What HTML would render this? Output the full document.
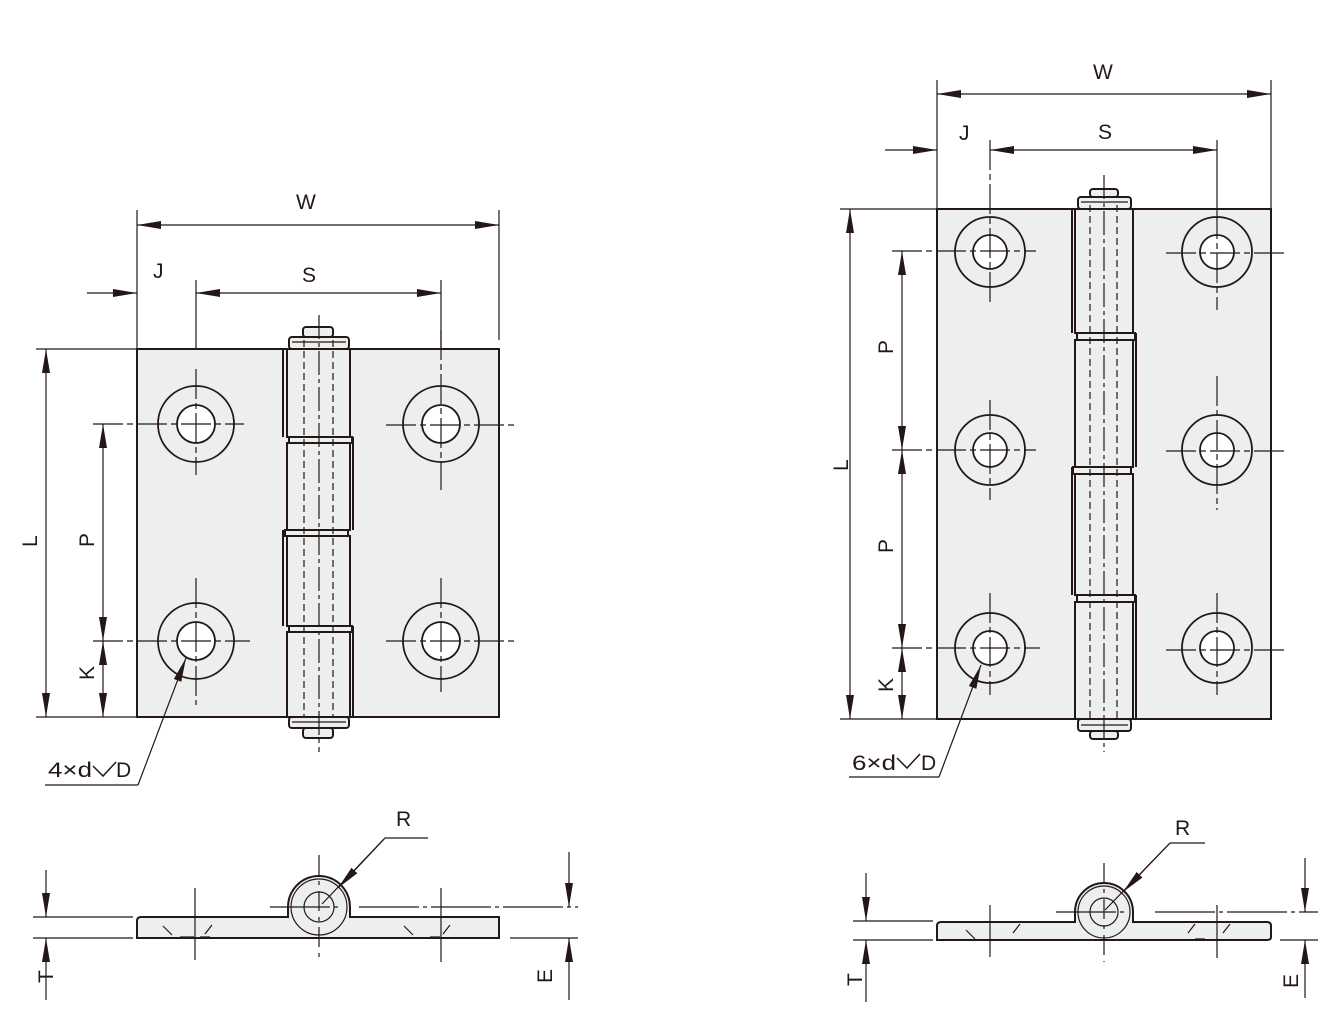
<!DOCTYPE html>
<html><head><meta charset="utf-8"><style>
html,body{margin:0;padding:0;background:#fff}
svg{display:block}
text{font-family:"Liberation Sans",sans-serif;font-size:21px;fill:#231815}
</style></head><body>
<svg width="1329" height="1013" viewBox="0 0 1329 1013" xmlns="http://www.w3.org/2000/svg">
<defs>
<marker id="a" viewBox="0 0 24 8" refX="24" refY="4" markerWidth="24" markerHeight="8" markerUnits="userSpaceOnUse" orient="auto"><path d="M0,0 L24,4 L0,8 Z" fill="#231815"/></marker>
<marker id="b" viewBox="0 0 24 8" refX="0" refY="4" markerWidth="24" markerHeight="8" markerUnits="userSpaceOnUse" orient="auto"><path d="M24,0 L0,4 L24,8 Z" fill="#231815"/></marker>
</defs>
<g stroke="#231815" fill="none" stroke-width="1.2">

<!-- ============ LEFT TOP VIEW ============ -->
<rect x="137" y="349" width="362" height="368" fill="#edefee" stroke-width="2"/>
<path d="M283,349 V437 M353,437 V530 M283,530 V626 M353,626 V717" stroke-width="2"/>
<g fill="#edefee" stroke-width="2">
<rect x="287" y="349" width="63" height="88"/>
<rect x="287" y="443" width="63" height="87"/>
<rect x="287" y="536" width="63" height="90"/>
<rect x="287" y="632" width="63" height="85"/>
<rect x="289" y="437" width="63" height="6"/>
<rect x="285" y="530" width="63" height="6"/>
<rect x="289" y="626" width="63" height="6"/>
<rect x="289" y="337" width="60" height="12" rx="3"/>
<rect x="303" y="327" width="30" height="10" rx="3"/>
<rect x="289" y="717" width="60" height="11" rx="3"/>
<rect x="303" y="728" width="30" height="10" rx="3"/>
</g>
<line x1="292" y1="342" x2="346" y2="342"/><line x1="292" y1="722" x2="346" y2="722"/>
<path d="M304,340 V718 M333,340 V718" stroke-dasharray="7,4"/>
<path d="M319,315 V752" stroke-dasharray="24,4,4,4"/>
<g stroke-width="1.8">
<circle cx="196" cy="424" r="38"/><circle cx="196" cy="424" r="19" fill="#fff"/>
<circle cx="441" cy="424" r="38"/><circle cx="441" cy="424" r="19" fill="#fff"/>
<circle cx="196" cy="641" r="38"/><circle cx="196" cy="641" r="19" fill="#fff"/>
<circle cx="441" cy="641" r="38"/><circle cx="441" cy="641" r="19" fill="#fff"/>
</g>
<path d="M93,424 H244 M196,369 V475 M386,425 H514 M441,330 V490 M93,641 H250 M196,578 V705 M386,641 H514 M441,578 V692" stroke-dasharray="30,4,6,4"/>
<path d="M137,210 V349 M499,210 V340 M196,280 V349 M441,280 V349"/>
<line x1="137" y1="225" x2="499" y2="225" marker-start="url(#b)" marker-end="url(#a)"/>
<line x1="87" y1="293" x2="137" y2="293" marker-end="url(#a)"/>
<line x1="196" y1="293" x2="441" y2="293" marker-start="url(#b)" marker-end="url(#a)"/>
<path d="M36,349 H137 M36,717 H137"/>
<line x1="46" y1="349" x2="46" y2="717" marker-start="url(#b)" marker-end="url(#a)"/>
<line x1="103" y1="424" x2="103" y2="641" marker-start="url(#b)" marker-end="url(#a)"/>
<line x1="103" y1="641" x2="103" y2="717" marker-start="url(#b)" marker-end="url(#a)"/>
<line x1="138" y1="785" x2="186" y2="658" marker-end="url(#a)"/>
<path d="M45,785 H138"/>
<path d="M93,766 L103,776 L116,762" stroke-width="1.5"/>

<!-- ============ LEFT SIDE VIEW ============ -->
<path d="M141,917 H288 V907 A31,31 0 1 1 350,907 V917 H499 V938 H137 V921 Q137,917 141,917 Z" fill="#edefee" stroke-width="2"/>
<circle cx="319" cy="907" r="28"/>
<circle cx="319" cy="907" r="15"/>
<path d="M163,926 L172,935 M212,925 L205,934 M180,937 H194 M200,937 H210 M404,926 L413,935 M450,925 L443,934 M430,937 H440"/>
<path d="M195,888 V960 M441,888 V962"/>
<path d="M319,855 V962" stroke-dasharray="20,6,4,6"/>
<path d="M270,907 H340 M359,907 H578" stroke-dasharray="60,4,4,4"/>
<path d="M33,917 H133 M33,938 H133 M510,938 H578"/>
<line x1="46" y1="870" x2="46" y2="917" marker-end="url(#a)"/>
<line x1="46" y1="1000" x2="46" y2="938" marker-end="url(#a)"/>
<line x1="569" y1="852" x2="569" y2="907" marker-end="url(#a)"/>
<line x1="569" y1="1000" x2="569" y2="938" marker-end="url(#a)"/>
<line x1="385" y1="838" x2="322" y2="904"/>
<line x1="385" y1="838" x2="338" y2="888" marker-end="url(#a)"/>
<path d="M385,838 H428"/>

<!-- ============ RIGHT TOP VIEW ============ -->
<rect x="937" y="209" width="334" height="510" fill="#edefee" stroke-width="2"/>
<path d="M1072,209 V333 M1136,333 V467 M1072,467 V595 M1136,595 V719" stroke-width="2"/>
<g fill="#edefee" stroke-width="2">
<rect x="1075" y="209" width="58" height="124"/>
<rect x="1075" y="340" width="58" height="127"/>
<rect x="1075" y="474" width="58" height="121"/>
<rect x="1075" y="602" width="58" height="117"/>
<rect x="1077" y="333" width="58" height="7"/>
<rect x="1073" y="467" width="58" height="7"/>
<rect x="1077" y="595" width="58" height="7"/>
<rect x="1078" y="197" width="53" height="12" rx="3"/>
<rect x="1090" y="189" width="28" height="8" rx="3"/>
<rect x="1078" y="719" width="53" height="12" rx="3"/>
<rect x="1090" y="731" width="28" height="8" rx="3"/>
</g>
<line x1="1081" y1="202" x2="1128" y2="202"/><line x1="1081" y1="725" x2="1128" y2="725"/>
<path d="M1090,205 V720 M1117,205 V720" stroke-dasharray="7,4"/>
<path d="M1104,175 V752" stroke-dasharray="24,4,4,4"/>
<g stroke-width="1.8">
<circle cx="990" cy="252" r="35"/><circle cx="990" cy="252" r="17" fill="#fff"/>
<circle cx="1217" cy="252" r="35"/><circle cx="1217" cy="252" r="17" fill="#fff"/>
<circle cx="990" cy="450" r="35"/><circle cx="990" cy="450" r="17" fill="#fff"/>
<circle cx="1217" cy="450" r="35"/><circle cx="1217" cy="450" r="17" fill="#fff"/>
<circle cx="990" cy="648" r="35"/><circle cx="990" cy="648" r="17" fill="#fff"/>
<circle cx="1217" cy="648" r="35"/><circle cx="1217" cy="648" r="17" fill="#fff"/>
</g>
<path d="M892,251 H1036 M990,140 V304 M1166,253 H1285 M1217,209 V310 M892,450 H1036 M990,400 V500 M1166,451 H1285 M1217,376 V510 M892,648 H1040 M990,593 V695 M1166,650 H1285 M1217,593 V695" stroke-dasharray="30,4,6,4"/>
<path d="M937,80 V209 M1271,80 V209 M1217,140 V209"/>
<line x1="937" y1="94" x2="1271" y2="94" marker-start="url(#b)" marker-end="url(#a)"/>
<line x1="885" y1="150" x2="937" y2="150" marker-end="url(#a)"/>
<line x1="990" y1="150" x2="1217" y2="150" marker-start="url(#b)" marker-end="url(#a)"/>
<path d="M840,209 H937 M840,719 H937"/>
<line x1="850" y1="209" x2="850" y2="719" marker-start="url(#b)" marker-end="url(#a)"/>
<line x1="902" y1="251" x2="902" y2="450" marker-start="url(#b)" marker-end="url(#a)"/>
<line x1="902" y1="450" x2="902" y2="648" marker-start="url(#b)" marker-end="url(#a)"/>
<line x1="902" y1="648" x2="902" y2="719" marker-start="url(#b)" marker-end="url(#a)"/>
<line x1="939" y1="777" x2="981" y2="665" marker-end="url(#a)"/>
<path d="M849,777 H939"/>
<path d="M897,758 L907,768 L920,754" stroke-width="1.5"/>

<!-- ============ RIGHT SIDE VIEW ============ -->
<path d="M941,922 H1075 V912 A29,29 0 1 1 1133,912 V922 H1267 Q1271,922 1271,926 V937 Q1271,940 1267,940 H937 V926 Q937,922 941,922 Z" fill="#edefee" stroke-width="2"/>
<circle cx="1104" cy="912" r="26"/>
<circle cx="1104" cy="912" r="14"/>
<path d="M966,930 L975,939 M1020,924 L1013,933 M1195,924 L1188,933 M1195,939 H1205 M1230,924 L1223,933"/>
<path d="M990,905 V957 M1217,905 V958"/>
<path d="M1104,863 V962" stroke-dasharray="20,6,4,6"/>
<path d="M1056,912 H1125 M1155,912 H1318" stroke-dasharray="60,4,4,4"/>
<path d="M853,921 H933 M853,940 H933 M1280,940 H1318"/>
<line x1="866" y1="873" x2="866" y2="921" marker-end="url(#a)"/>
<line x1="866" y1="1002" x2="866" y2="940" marker-end="url(#a)"/>
<line x1="1305" y1="858" x2="1305" y2="912" marker-end="url(#a)"/>
<line x1="1305" y1="998" x2="1305" y2="940" marker-end="url(#a)"/>
<line x1="1170" y1="843" x2="1105" y2="910"/>
<line x1="1170" y1="843" x2="1123" y2="892" marker-end="url(#a)"/>
<path d="M1170,843 H1205"/>
</g>

<text x="296" y="209">W</text>
<text x="153" y="278">J</text>
<text x="302" y="282">S</text>
<text x="48" y="777" textLength="44" lengthAdjust="spacingAndGlyphs">4×d</text><text x="116" y="777">D</text>
<text x="396" y="826">R</text>
<text x="1093" y="79">W</text>
<text x="959" y="140">J</text>
<text x="1098" y="139">S</text>
<text x="852" y="770" textLength="44" lengthAdjust="spacingAndGlyphs">6×d</text><text x="921" y="770">D</text>
<text x="1175" y="835">R</text>
<text transform="translate(37,547) rotate(-90)">L</text>
<text transform="translate(94,547) rotate(-90)">P</text>
<text transform="translate(94,680) rotate(-90)">K</text>
<text transform="translate(53,983) rotate(-90)">T</text>
<text transform="translate(552,983) rotate(-90)">E</text>
<text transform="translate(848,471) rotate(-90)">L</text>
<text transform="translate(893,354) rotate(-90)">P</text>
<text transform="translate(893,553) rotate(-90)">P</text>
<text transform="translate(893,692) rotate(-90)">K</text>
<text transform="translate(862,986) rotate(-90)">T</text>
<text transform="translate(1298,988) rotate(-90)">E</text>
</svg>
</body></html>
